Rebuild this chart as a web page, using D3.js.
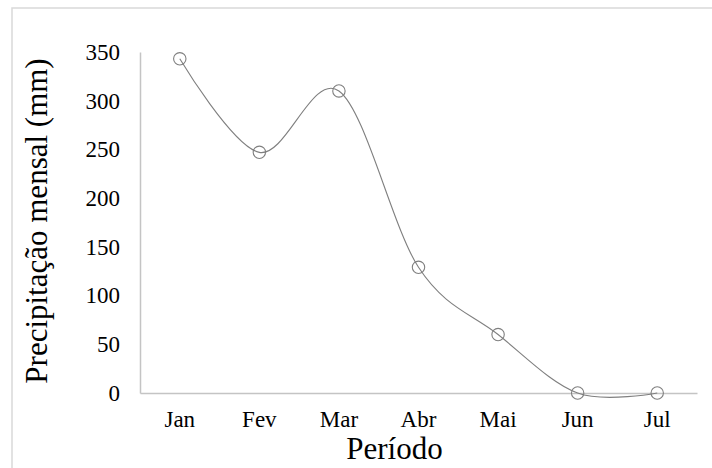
<!DOCTYPE html>
<html>
<head>
<meta charset="utf-8">
<script src="https://cdn.jsdelivr.net/npm/d3@7"></script>
<style>
  html, body { margin: 0; padding: 0; background: #fff; }
  svg { display: block; }
</style>
</head>
<body>
<svg id="chart" width="712" height="468"></svg>
<script>
// Monthly rainfall
const months = ["Jan", "Fev", "Mar", "Abr", "Mai", "Jun", "Jul"];
const rainfall = [343, 247, 310, 129, 60, 0, 0];
const yTicks = [0, 50, 100, 150, 200, 250, 300, 350];
const xTitle = "Período";
const yTitle = "Precipitação mensal (mm)";

const FONT = "'Liberation Serif', 'Times New Roman', serif";
const svg = d3.select("#chart");
const W = 712, H = 468;
const plot = { left: 140, right: 697, top: 52, bottom: 393 };

// chart frame
svg.append("rect")
  .attr("x", 12).attr("y", 8)
  .attr("width", W + 20).attr("height", H + 20)
  .attr("fill", "#fff")
  .attr("stroke", "#d9d9d9").attr("stroke-width", 1.5);

const x = d3.scaleBand().domain(months).range([plot.left, plot.right]).padding(0);
const y = d3.scaleLinear().domain([0, 350]).range([plot.bottom, plot.top]);

// y axis
const gy = svg.append("g")
  .attr("transform", `translate(${plot.left},0)`)
  .call(d3.axisLeft(y).tickValues(yTicks).tickSize(0).tickPadding(20))
  .attr("font-family", FONT).attr("font-size", 23);
gy.select(".domain").attr("stroke", "#c4c4c4").attr("stroke-width", 1.5);
gy.selectAll("text").attr("fill", "#000");

// x axis
const gx = svg.append("g")
  .attr("transform", `translate(0,${plot.bottom})`)
  .call(d3.axisBottom(x).tickSize(0).tickPadding(18))
  .attr("font-family", FONT).attr("font-size", 23);
gx.select(".domain").attr("stroke", "#c4c4c4").attr("stroke-width", 1.5);
gx.selectAll("text").attr("fill", "#000");

// smoothed series line
const pts = months.map((m, i) => [x(m) + x.bandwidth() / 2, y(rainfall[i])]);
svg.append("path")
  .datum(pts)
  .attr("fill", "none")
  .attr("stroke", "#7f7f7f")
  .attr("stroke-width", 1.1)
  .attr("d", d3.line().curve(d3.curveCardinal.tension(0)));

// open circle markers
svg.append("g").selectAll("circle")
  .data(pts)
  .join("circle")
  .attr("cx", d => d[0]).attr("cy", d => d[1])
  .attr("r", 6.2)
  .attr("fill", "none")
  .attr("stroke", "#7f7f7f")
  .attr("stroke-width", 1.1);

// axis titles
svg.append("text")
  .attr("x", 394.5).attr("y", 459)
  .attr("text-anchor", "middle")
  .attr("font-family", FONT).attr("font-size", 31)
  .text(xTitle);

svg.append("text")
  .attr("transform", "translate(47,221) rotate(-90)")
  .attr("text-anchor", "middle")
  .attr("font-family", FONT).attr("font-size", 31)
  .text(yTitle);
</script>
</body>
</html>
